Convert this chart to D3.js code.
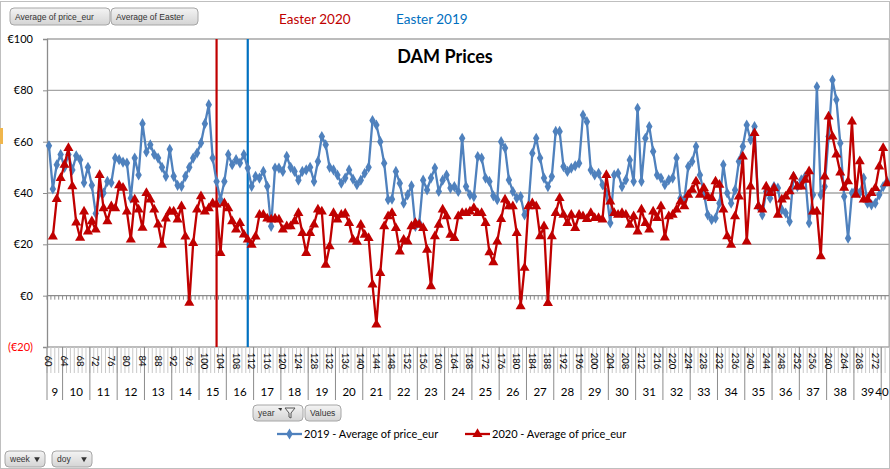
<!DOCTYPE html>
<html>
<head>
<meta charset="utf-8">
<script src="https://cdn.jsdelivr.net/npm/d3@7"></script>
<style>
  body { margin: 0; background: #fff; }
  svg { display: block; font-family: Lato, "Open Sans", sans-serif; }
</style>
</head>
<body>
<svg id="chart" width="890" height="469"></svg>
<script>
// categories: day of year, grouped into weeks
const doys = d3.range(60, 276);
const weeks = d3.range(9, 41);
const weekOf = d => d < 64 ? 9 : 10 + Math.floor((d - 64) / 7);

// average DAM price per day (EUR/MWh), 2019 and 2020
const price2019 = [
  58.4, 41.6, 51, 55, 50, 55, 49, 54.5, 53, 44,
  50, 43, 32, 40, 40, 44.5, 44, 53.6, 53, 52,
  51.7, 38, 53.6, 47, 67, 56, 58.8, 55, 53.6, 50,
  46.5, 57, 46.5, 43, 42.6, 46.5, 50, 53.6, 55.6, 59.5,
  67, 74.4, 53.6, 44.5, 37.4, 44.5, 55, 51, 53, 51.7,
  55, 49.7, 42.6, 46.5, 45.8, 48.4, 42.6, 27, 49.7, 49.7,
  48.4, 54.3, 50, 48.4, 45, 48.4, 49, 50, 44.5, 52.3,
  62, 58.8, 50, 49, 47, 43.8, 45.8, 49, 45.4, 43.2,
  45, 47.7, 50, 68.2, 66.5, 60, 51.6, 37.4, 37.6, 48.4,
  43.8, 36, 39.3, 42.8, 27, 28.3, 45, 41.2, 45.8, 49.7,
  40.6, 45, 47, 41.9, 42.5, 40.6, 61.3, 42.5, 39.3, 38.6,
  54.2, 53.6, 45.8, 44.5, 38.9, 37.4, 60, 57.5, 45.1, 40.6,
  38, 38.6, 31.5, 34.8, 55.5, 61.3, 53.6, 45.8, 42.5, 46.4,
  64, 64, 50.3, 48.4, 49.7, 50.6, 51.6, 70.4, 67.8, 49,
  47, 47.7, 43.2, 40, 28.3, 47, 47.7,
  42.5, 45.1, 52.9, 44.5, 73, 44.5, 61.3, 65.9, 56.2, 47,
  45.8, 43.2, 45.1, 45.8, 53.6, 38, 37.4, 50.3, 52.3, 58.1,
  47, 40, 31.5, 29.6, 30.2, 36, 51, 40, 36, 41.2,
  52.3, 58.1, 66.5, 60.7, 65.9, 34.8, 31.5, 40.6, 38, 42.5,
  41.9, 33.5, 32.2, 28.9, 46.4, 42.5, 45.1, 46.4, 28.3, 39.3,
  81.4, 39.3, 42.5, 62, 84, 76.3, 59.4, 38.6, 22.4, 40,
  41.2, 40, 45.8, 36, 35.4, 36, 39.3, 42.5, 44.5
];
const price2020 = [
  null, 23, 37.6, 45.8, 51, 57.5, 42.6, 28.5, 22.5, 32.8,
  25, 29, 25.7, 47, 34, 29, 34.8, 34, 43, 42,
  32.8, 21.8, 37.4, 33.5, 26.4, 40, 37.4, 33.5, 27.7, 19.8,
  30, 32.8, 32.8, 29.6, 34.8, 23, -2.8, 20.5, 33.5, 38.7,
  32.8, 34, 36, 35.5, 16.6, 36, 34, 29, 25.7, 28.3,
  23.8, 21.8, 19.8, 23, 31.5, 31.5, 30, 29.6, 30, 29.6,
  25.7, 27, 27, 29, 32.2, 24.4, 16.6, 24.4, 27.7, 33.5,
  32.8, 12, 19.2, 32.2, 29.6, 31.5, 32, 28.3, 21.8, 21,
  27.6, 23.7, 22.4, 4.3, -11.3, 8.8, 27, 30.9, 32.2, 26.3,
  17.2, 21.8, 21.1, 27, 28.3, 27.6, 26.3, 17.9, 3.6, 23.1,
  27.6, 33.5, 30.9, 23.7, 22.4, 30.9, 32.2, 32.2, 32.8, 34.1,
  32.2, 32.2, 28.3, 16.9, 13, 21.1, 29.8, 37.4, 34.8, 34.8,
  24.4, -4.2, 10.8, 34.8, 36, 34.8, 23.1, 27, -2.9, 23.1,
  32.2, 38, 31.5, 28.3, 31.5, 26.3, 31.5, 30.9, 29.8, 32.2,
  30.2, 30.2, 29.6, 47, 36.7, 32.2, 31.5,
  32.2, 31.5, 27.6, 30.9, 25, 33.5, 28.3, 25.7, 32.8, 30.2,
  34.8, 22.6, 30.9, 31.5, 33.5, 36.7, 34.8, 39.3, 41.2, 44.5,
  39.3, 41.9, 38.6, 38, 44.5, 43.2, 33.5, 23.1, 19.8, 30.9,
  38.6, 54.2, 21.1, 42.5, 63.3, 34.8, 33.5, 42.5, 40, 41.9,
  31.5, 37.4, 38.6, 40.6, 46.4, 42.5, 42.5, 45.1, 48.4,
  32.8, 32.8, 15.3, 46.4, 69.8, 62, 55, 48, 42, 44.5,
  67.8, 39.3, 52.3, 37.4, 37.4, 40, 41.9, 50.3, 57.5, 43.8
];

// easter day of year, per year
const easterYears = ["2020", "2019"];
const easterDoy = [103, 111];
const yTicks = [-20, 0, 20, 40, 60, 80, 100];

const blue = "#4f81bd", red = "#c00000", easterBlue = "#0070c0";

const svg = d3.select("#chart");

// chart area border
svg.append("rect").attr("x", 0.5).attr("y", 1.5).attr("width", 889).attr("height", 467)
  .attr("fill", "#fff").attr("stroke", "#bfbfbf");
svg.append("rect").attr("x", 0).attr("y", 128).attr("width", 3).attr("height", 16).attr("fill", "#f0b64c");

var x = d3.scaleBand().domain(doys).range([47, 889]);
var y = d3.scaleLinear().domain([-20, 100]).range([347, 39]);
var cx = d => x(d) + x.bandwidth() / 2;

// gridlines
svg.append("g").selectAll("line")
  .data([20, 40, 60, 80, 100])
  .enter().append("line")
  .attr("x1", 47).attr("x2", 889)
  .attr("y1", d => y(d)).attr("y2", d => y(d))
  .attr("stroke", "#a6a6a6").attr("stroke-width", 1.3);

// plot frame
svg.append("line").attr("x1", 47).attr("x2", 889).attr("y1", y(-20)).attr("y2", y(-20))
  .attr("stroke", "#a6a6a6").attr("stroke-width", 1.3);
svg.append("line").attr("x1", 889).attr("x2", 889).attr("y1", y(100)).attr("y2", y(-20))
  .attr("stroke", "#a6a6a6");

// y axis
var yAxis = svg.append("g")
  .attr("transform", "translate(47,0)")
  .call(d3.axisLeft(y).tickValues(yTicks).tickSize(4).tickPadding(10)
    .tickFormat(d => d < 0 ? "(€" + (-d) + ")" : "€" + d));
yAxis.select(".domain").attr("stroke", "#8c8c8c").attr("stroke-width", 1.3);
yAxis.selectAll(".tick line").attr("stroke", "#8c8c8c");
yAxis.selectAll(".tick text")
  .attr("font-size", 11).attr("font-family", "Lato, sans-serif")
  .attr("fill", d => d < 0 ? "#ff0000" : "#000");

// category axis line at zero with a tick per category
svg.append("line").attr("x1", 47).attr("x2", 889).attr("y1", y(0)).attr("y2", y(0))
  .attr("stroke", "#8c8c8c").attr("stroke-width", 1.3);
svg.append("g").selectAll("line")
  .data(doys)
  .enter().append("line")
  .attr("x1", d => x(d)).attr("x2", d => x(d))
  .attr("y1", y(0)).attr("y2", y(0) + 4)
  .attr("stroke", "#8c8c8c");

// label area: a divider per day, longer divider per week
var labelTop = y(-20);
svg.append("g").selectAll("line")
  .data(doys)
  .enter().append("line")
  .attr("x1", d => x(d)).attr("x2", d => x(d))
  .attr("y1", labelTop).attr("y2", labelTop + 26)
  .attr("stroke", "#c8c8c8");
var weekStart = w => doys.find(d => weekOf(d) === w);
var weekEnd = w => doys.filter(d => weekOf(d) === w).pop();
svg.append("g").selectAll("line")
  .data(weeks)
  .enter().append("line")
  .attr("x1", w => x(weekStart(w))).attr("x2", w => x(weekStart(w)))
  .attr("y1", labelTop).attr("y2", labelTop + 53)
  .attr("stroke", "#8c8c8c");

svg.append("g").selectAll("text")
  .data(doys.filter(d => d % 4 === 0))
  .enter().append("text")
  .attr("transform", d => "translate(" + cx(d) + "," + (labelTop + 14) + ") rotate(90)")
  .attr("text-anchor", "middle")
  .attr("dominant-baseline", "central")
  .attr("font-size", 9.5)
  .attr("fill", "#000")
  .text(d => d);

// week labels; the last, short week is squeezed against the right edge
svg.append("g").selectAll("text")
  .data(weeks)
  .enter().append("text")
  .attr("x", w => Math.min((x(weekStart(w)) + x(weekEnd(w)) + x.bandwidth()) / 2, 882))
  .attr("y", labelTop + 49)
  .attr("text-anchor", "middle")
  .attr("font-size", 11.5)
  .attr("fill", "#000")
  .text(w => w);

// easter markers
svg.append("g").selectAll("line")
  .data(easterDoy)
  .enter().append("line")
  .attr("x1", d => cx(d)).attr("x2", d => cx(d))
  .attr("y1", y(100)).attr("y2", y(-20))
  .attr("stroke", (d, i) => i === 0 ? red : easterBlue)
  .attr("stroke-width", 2.2);

// series
var series = [
  { values: price2019, color: blue, symbol: d3.symbolDiamond, size: 36 },
  { values: price2020, color: red, symbol: d3.symbolTriangle, size: 44 }
];
var line = d3.line()
  .defined(d => d.v != null)
  .x(d => cx(d.doy))
  .y(d => y(d.v));

series.forEach(s => {
  var pts = doys.map((d, i) => ({ doy: d, v: s.values[i] }));
  svg.append("path")
    .datum(pts)
    .attr("fill", "none")
    .attr("stroke", s.color)
    .attr("stroke-width", 2.3)
    .attr("stroke-linejoin", "round")
    .attr("d", line);
  svg.append("g").selectAll("path")
    .data(pts.filter(p => p.v != null))
    .enter().append("path")
    .attr("transform", p => "translate(" + cx(p.doy) + "," + y(p.v) + ")")
    .attr("d", d3.symbol().type(s.symbol).size(s.size))
    .attr("fill", s.color);
});

// titles
svg.append("text").attr("x", 279).attr("y", 24).attr("font-size", 13.5)
  .attr("fill", red).text("Easter " + easterYears[0]);
svg.append("text").attr("x", 396).attr("y", 24).attr("font-size", 13.5)
  .attr("fill", easterBlue).text("Easter " + easterYears[1]);
svg.append("text").attr("x", 445).attr("y", 63).attr("text-anchor", "middle")
  .attr("font-size", 18).attr("font-weight", "bold").attr("fill", "#000").text("DAM Prices");

// pivot field buttons
var defs = svg.append("defs");
var grad = defs.append("linearGradient").attr("id", "btn").attr("x1", 0).attr("y1", 0).attr("x2", 0).attr("y2", 1);
grad.append("stop").attr("offset", "0%").attr("stop-color", "#f4f4f4");
grad.append("stop").attr("offset", "100%").attr("stop-color", "#d4d4d4");

function button(x0, y0, w, h, label, arrow) {
  var g = svg.append("g").attr("transform", "translate(" + x0 + "," + y0 + ")");
  g.append("rect").attr("width", w).attr("height", h).attr("rx", 4)
    .attr("fill", "url(#btn)").attr("stroke", "#a6a6a6");
  g.append("text").attr("x", 5).attr("y", h / 2 + 3).attr("font-size", 8.5)
    .attr("font-family", "'Liberation Sans', Arial, sans-serif").attr("fill", "#333").text(label);
  if (arrow) {
    g.append("path").attr("d", d3.symbol().type(d3.symbolTriangle).size(14)())
      .attr("transform", "translate(" + (w - 8) + "," + (h / 2) + ") rotate(180)")
      .attr("fill", "#333");
  }
  return g;
}
button(10, 8, 100, 17, "Average of price_eur");
button(111, 8, 87, 17, "Average of Easter");
var yb = button(253, 405, 50, 16, "year ");
yb.append("path").attr("d", "M28,6 l-3,-3 h4 z").attr("fill", "#333");
yb.append("path").attr("d", "M32,3 h10 l-4,5 v5 l-2,-1 v-4 z").attr("fill", "#eee").attr("stroke", "#555");
button(305, 405, 36, 16, "Values");
button(5, 451, 40, 16, "week", true);
button(52, 451, 40, 16, "doy", true);

// legend
var legend = [
  { x0: 277, label: "2019 - Average of price_eur", color: blue, symbol: d3.symbolDiamond, size: 36 },
  { x0: 465, label: "2020 - Average of price_eur", color: red, symbol: d3.symbolTriangle, size: 44 }
];
legend.forEach(l => {
  var g = svg.append("g").attr("transform", "translate(" + l.x0 + ",434)");
  g.append("line").attr("x1", 0).attr("x2", 25).attr("stroke", l.color).attr("stroke-width", 2.3);
  g.append("path").attr("transform", "translate(12.5,0)")
    .attr("d", d3.symbol().type(l.symbol).size(l.size)).attr("fill", l.color);
  g.append("text").attr("x", 27).attr("y", 4).attr("font-size", 11).attr("fill", "#000").text(l.label);
});
</script>
</body>
</html>
